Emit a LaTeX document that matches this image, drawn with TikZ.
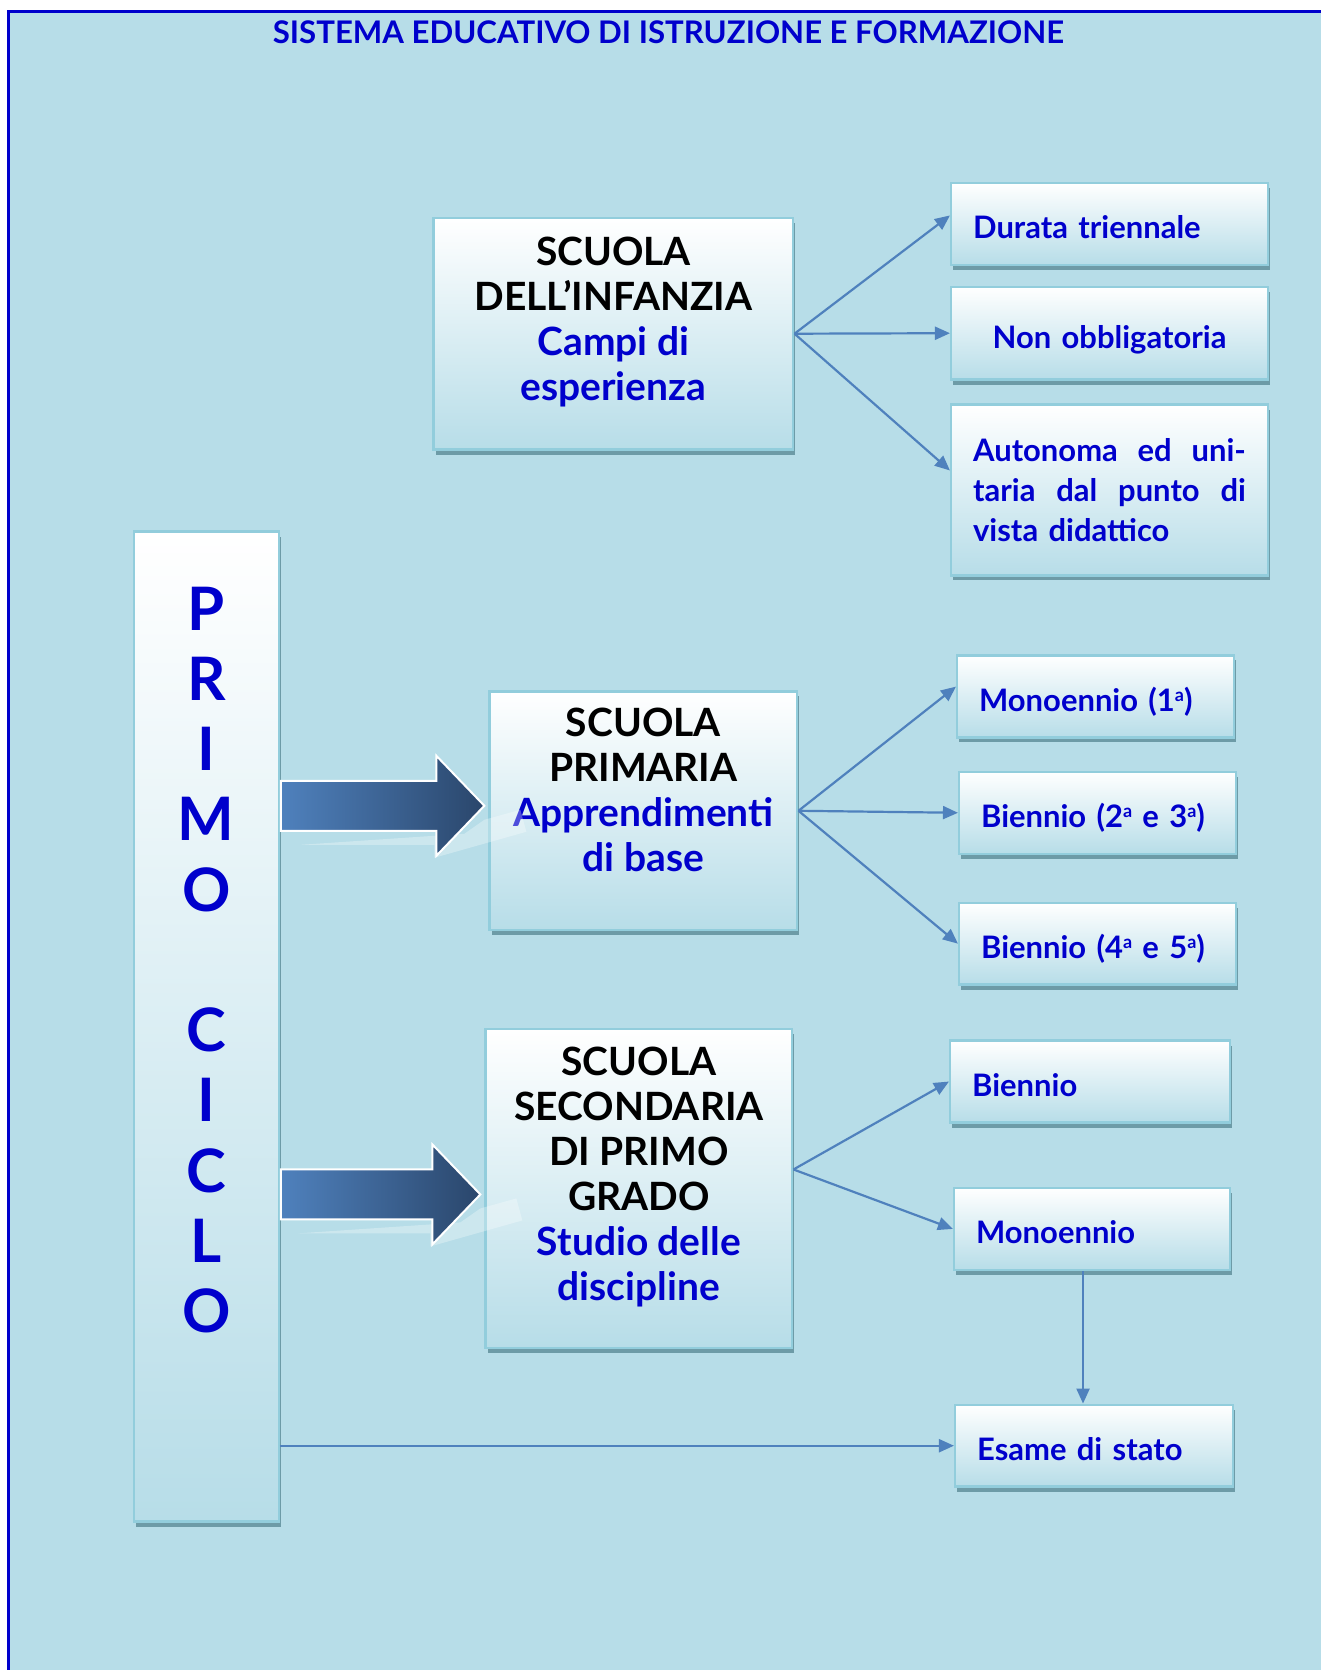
\documentclass[tikz,border=0pt]{standalone}
\usepackage{fontspec}
\setmainfont{Lato}
\usetikzlibrary{shadows,calc,arrows.meta}

\definecolor{pagebg}{HTML}{B7DDE8}
\definecolor{framecol}{HTML}{0000CC}
\definecolor{boxline}{HTML}{92CDDC}
\definecolor{boxshade}{HTML}{6D9BA7}
\definecolor{linkcol}{HTML}{4F81BD}
\definecolor{arrowtop}{HTML}{4F81BD}
\definecolor{arrowbot}{HTML}{2A466B}
\definecolor{subblue}{HTML}{0000CC}

% small raised "a"
\newcommand{\supa}{\raisebox{5pt}{\fontsize{9}{9}\selectfont a}}

\begin{document}
\begin{tikzpicture}[x=0.5pt, y=-0.5pt,
    box/.style={draw=boxline, line width=1.2pt, top color=white, bottom color=pagebg,
      general shadow={fill=boxshade, shadow xshift=1pt, shadow yshift=-2.5pt}},
    mainbox/.style={box, align=center, inner sep=0pt,
      font=\bfseries\fontsize{19.5}{22.5}\selectfont},
    sidebox/.style={box, text=subblue, inner xsep=11pt, inner ysep=0pt,
      font=\bfseries\fontsize{15.5}{20}\selectfont},
    oneline/.style={sidebox, minimum height=41pt, text height=19pt, text depth=4pt},
    link/.style={draw=linkcol, line width=1.1pt, -{Triangle[length=7.5pt, width=6.5pt]}},
    bigarrow/.style={left color=arrowtop, right color=arrowbot, draw=white, line width=1pt}]

  % page and frame
  \fill[white] (0,0) rectangle (1322,1671);
  \fill[pagebg] (9,12) rectangle (1322,1671);
  \draw[framecol, line width=1.5pt] (1322,12) -- (9,12) -- (9,1671);
  \useasboundingbox (0,0) rectangle (1322,1671);

  \node[text=framecol, font=\bfseries\fontsize{15.6}{17}\selectfont] (title) at (669,32)
    {SISTEMA EDUCATIVO DI ISTRUZIONE E FORMAZIONE};

  % primo ciclo
  \node[box, minimum width=72.5pt, minimum height=495.5pt, align=center, inner sep=0pt,
    text=subblue, font=\bfseries\fontsize{30}{35.15}\selectfont] (primo) at (206.5,1027.5)
    {P\\R\\I\\M\\O\\ \\C\\I\\C\\L\\O\\[31.85pt]};

  % the three schools
  \node[mainbox, minimum width=180pt, minimum height=116pt] (infanzia) at (614,334)
    {SCUOLA\\DELL’INFANZIA\\\textcolor{subblue}{Campi di}\\\textcolor{subblue}{esperienza}\\[-7.5pt]};
  \node[mainbox, minimum width=154pt, minimum height=119.5pt] (primaria) at (644,811.5)
    {SCUOLA\\PRIMARIA\\\textcolor{subblue}{Apprendimenti}\\\textcolor{subblue}{di base}\\[-1.5pt]};
  \node[mainbox, minimum width=153.5pt, minimum height=159.5pt] (secondaria) at (639.5,1189.5)
    {SCUOLA\\SECONDARIA\\DI PRIMO\\GRADO\\\textcolor{subblue}{Studio delle}\\\textcolor{subblue}{discipline}\\[-8pt]};

  % side boxes
  \node[oneline, text width=136.5pt] (durata) at (1110.5,224) {Durata triennale};
  \node[oneline, text width=136.5pt, minimum height=46.5pt, align=center] (nonobbl) at (1110.5,333.5) {Non obbligatoria};
  \node[sidebox, text width=136.5pt, minimum height=85.5pt] (autonoma) at (1110.5,490.5)
    {Autonoma \hfill ed \hfill uni-\\taria \hfill dal \hfill punto \hfill di\\vista didattico};
  \node[oneline, text width=116.5pt] (mono) at (1096.5,697) {Monoennio (1\supa)};
  \node[oneline, text width=116.5pt] (bienA) at (1098.5,813.5) {Biennio (2\supa{} e 3\supa)};
  \node[oneline, text width=116.5pt] (bienB) at (1098.5,944.5) {Biennio (4\supa{} e 5\supa)};
  \node[oneline, text width=118pt] (bienS) at (1091,1082.5) {Biennio};
  \node[oneline, text width=116pt] (monoS) at (1093,1230) {Monoennio};
  \node[oneline, text width=117pt] (esame) at (1095,1447) {Esame di stato};

  % block arrows from primo ciclo
  \foreach \t/\dy in {primaria/-5, secondaria/6} {
    \coordinate (\t tip) at ($(\t.west)+(-4,\dy)$);
    % pale reflection
    \fill[white, opacity=0.3] ($(\t tip)+(-183,39)$) -- ($(\t tip)+(-50,39)$) -- ($(\t tip)+(-50,52)$)
      -- ($(\t tip)+(42,26)$) -- ($(\t tip)+(36,4)$) -- ($(\t tip)+(0,14)$) -- ($(\t tip)+(-20,28)$) -- cycle;
    \path[bigarrow] ($(primo.east |- \t tip)+(1,-25)$) -- ($(\t tip)+(-48,-25)$)
      -- ($(\t tip)+(-48,-50)$) -- (\t tip) -- ($(\t tip)+(-48,50)$)
      -- ($(\t tip)+(-48,25)$) -- ($(primo.east |- \t tip)+(1,25)$) -- cycle;
  };

  % connectors
  \foreach \s/\e in {infanzia.east/durata.177, infanzia.east/nonobbl.west, infanzia.east/autonoma.173,
      primaria.east/mono.176, primaria.east/bienA.west, primaria.east/bienB.west,
      secondaria.7/bienS.west, secondaria.7/monoS.west} {
    \draw[link] (\s) -- (\e);
  };
  \draw[link] ([xshift=-4.5pt]monoS.south) -- ([xshift=-4.5pt]monoS.south |- esame.north);
  \draw[link] (primo.east |- esame.west) -- (esame.west);
\end{tikzpicture}
\end{document}
